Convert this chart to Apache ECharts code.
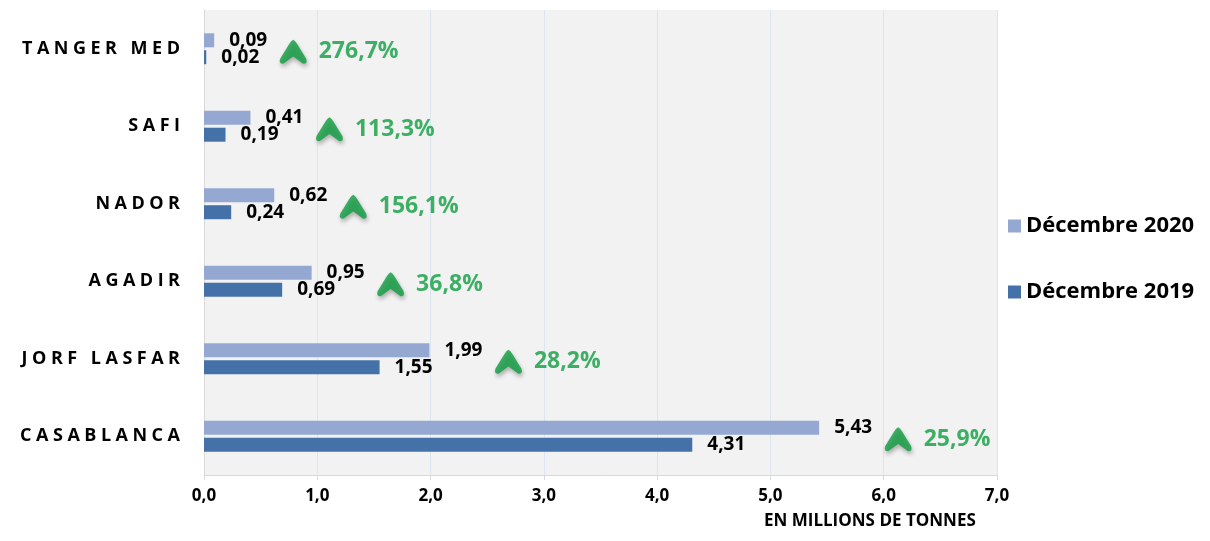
<!DOCTYPE html>
<html>
<head>
<meta charset="utf-8">
<script src="https://cdn.jsdelivr.net/npm/echarts@6/dist/echarts.min.js"></script>
<style>
  html, body { margin: 0; padding: 0; background: #fff; }
  #chart { width: 1210px; height: 541px; }
</style>
</head>
<body>
<div id="chart"></div>
<script>
const ports = ['CASABLANCA', 'JORF LASFAR', 'AGADIR', 'NADOR', 'SAFI', 'TANGER MED']
const dec2019 = [4.31, 1.55, 0.69, 0.24, 0.19, 0.02]
const dec2020 = [5.43, 1.99, 0.95, 0.62, 0.41, 0.09]
const growth = [25.9, 28.2, 36.8, 156.1, 113.3, 276.7]

const FONT = '"Open Sans", "DejaVu Sans", sans-serif'
const GREEN = '#0f9e40'
// flèche verte de hausse
const ARROW = 'path://M14 0 Q16 1 18 4 L27 18 Q29 23 24 23 L14 16 L4 23 Q-1 23 1 18 L10 4 Q12 1 14 0 Z'

const fmt = (v, d) => v.toFixed(d).replace('.', ',')

const chart = echarts.init(document.getElementById('chart'))

const barLabel = {
  show: true,
  position: 'right',
  distance: 15,
  color: '#000',
  fontFamily: FONT,
  fontWeight: 'bold',
  fontSize: 19,
  formatter: p => fmt(p.value, 2)
}

chart.setOption({
  backgroundColor: '#fff',
  animation: false,
  title: {
    text: 'EN MILLIONS DE TONNES',
    left: 764,
    top: 513,
    padding: 0,
    textStyle: { fontFamily: FONT, fontWeight: 'bold', fontSize: 17, color: '#000' }
  },
  legend: {
    orient: 'vertical',
    left: 1003,
    top: 210,
    itemGap: 44,
    itemWidth: 13,
    itemHeight: 13,
    icon: 'rect',
    data: ['Décembre 2020', 'Décembre 2019'],
    textStyle: { fontFamily: FONT, fontWeight: 'bold', fontSize: 22, color: '#000' }
  },
  grid: {
    left: 204,
    right: 213,
    top: 10,
    bottom: 66,
    show: true,
    backgroundColor: '#f2f2f2',
    borderWidth: 0,
    outerBoundsMode: 'none'
  },
  xAxis: {
    type: 'value',
    min: 0,
    max: 7,
    interval: 1,
    axisLine: { show: true, lineStyle: { color: '#d9d9d9', width: 1 } },
    axisTick: { show: true, length: 5, lineStyle: { color: '#d9d9d9' } },
    splitLine: { show: true, lineStyle: { color: '#dce6f2', width: 1 } },
    axisLabel: {
      margin: 13,
      color: '#000',
      fontFamily: FONT,
      fontWeight: 'bold',
      fontSize: 17,
      formatter: v => fmt(v, 1)
    }
  },
  yAxis: {
    type: 'category',
    data: ports,
    axisLine: { show: true, lineStyle: { color: '#d9d9d9', width: 1 } },
    axisTick: { show: false },
    splitLine: { show: false },
    axisLabel: {
      margin: 24,
      color: '#000',
      fontFamily: FONT,
      fontWeight: 'bold',
      fontSize: 18,
      formatter: v => v.split('').join('\u2005')
    }
  },
  series: [
    {
      name: 'Décembre 2020',
      type: 'bar',
      data: dec2020,
      barWidth: 14,
      barGap: '21%',
      itemStyle: { color: '#94a8d2' },
      label: barLabel
    },
    {
      name: 'Décembre 2019',
      type: 'bar',
      data: dec2019,
      barWidth: 14,
      barGap: '21%',
      itemStyle: { color: '#4571a9' },
      label: barLabel
    },
    {
      name: 'hausse',
      type: 'scatter',
      data: dec2020.map((v, i) => [v, i, growth[i]]),
      symbol: ARROW,
      symbolSize: [27, 24],
      symbolOffset: [79, 3],
      z: 5,
      itemStyle: {
        color: GREEN,
        shadowBlur: 4,
        shadowColor: 'rgba(0,0,0,0.35)',
        shadowOffsetX: 1,
        shadowOffsetY: 3
      },
      label: {
        show: true,
        position: 'right',
        distance: 12,
        color: GREEN,
        fontFamily: FONT,
        fontWeight: 'bold',
        fontSize: 23,
        formatter: p => fmt(p.value[2], 1) + '%'
      }
    }
  ]
})
</script>
</body>
</html>
